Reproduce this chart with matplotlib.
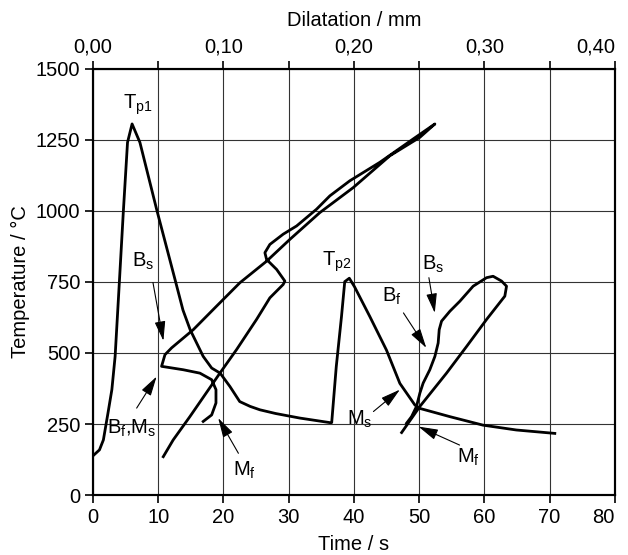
import matplotlib
matplotlib.use('Agg')
from matplotlib import pyplot as plt
from matplotlib.ticker import MultipleLocator

plt.rcParams['font.family'] = ['Liberation Sans', 'DejaVu Sans']
plt.rcParams['mathtext.default'] = 'regular'
plt.rcParams['font.size'] = 14.5

# temperature-time cycle (time / s, temperature / C)
time_s = [0.0, 1.0, 1.6, 2.3, 2.9, 3.4, 4.1, 4.65, 5.3, 6.0, 7.2, 9.8, 12.6, 13.8,
          14.9, 16.9, 18.2, 19.5, 21.0, 22.5, 24.1, 25.6, 28.0, 31.7, 36.3, 36.6,
          37.3, 38.1, 38.6, 39.3, 40.1, 42.45, 45.0, 47.05, 49.35, 50.1, 54.7,
          59.8, 64.9, 70.8]
temp_t = [138, 159, 194, 288, 371, 488, 770, 994, 1241, 1306, 1241, 1002, 757, 651,
          582, 488, 447, 429, 382, 329, 312, 300, 287, 271, 255, 255,
          452, 628, 751, 763, 733, 628, 510, 393, 317, 305, 276,
          246, 229, 217]

# dilatation curve, first cycle (dilatation / mm, temperature / C)
dil1 = [0.0539, 0.0615, 0.0743, 0.0973, 0.1101, 0.1254, 0.1356, 0.1458, 0.1471,
        0.1408, 0.1331, 0.1318, 0.1356, 0.1458, 0.1561, 0.1714, 0.1816, 0.1969,
        0.2199, 0.2454, 0.2621,
        0.2506, 0.2276, 0.1995, 0.1739, 0.1510, 0.1331, 0.1126, 0.0948, 0.0769,
        0.0603, 0.0552, 0.0526, 0.0692, 0.0820, 0.0910, 0.0943, 0.0943, 0.0910,
        0.0845]
temp1 = [135, 194, 276, 429, 512, 618, 694, 741, 753,
         794, 829, 853, 882, 918, 947, 1006, 1053, 1106,
         1171, 1253, 1306,
         1259, 1194, 1082, 994, 900, 823, 747, 665, 582,
         518, 494, 453, 441, 429, 406, 371, 324, 282,
         259]

# dilatation curve, second cycle
dil2 = [0.2366, 0.2506, 0.2710, 0.2864, 0.3017, 0.3157, 0.3170, 0.3132, 0.3067,
        0.3017, 0.2914, 0.2812, 0.2736, 0.2672, 0.2654, 0.2646, 0.2621, 0.2582,
        0.2531, 0.2506, 0.2480, 0.2442, 0.2404]
temp2 = [220, 312, 429, 523, 618, 700, 735, 753, 770,
         765, 735, 682, 647, 612, 582, 535, 488, 441,
         394, 359, 312, 276, 253]

time_ticks = [0, 10, 20, 30, 40, 50, 60, 70, 80]
temp_ticks = [0, 250, 500, 750, 1000, 1250, 1500]
dil_ticks = [0.0, 0.10, 0.20, 0.30, 0.40]
dil_labels = ['0,00', '0,10', '0,20', '0,30', '0,40']

fig = plt.figure(figsize=(6.28, 5.55), dpi=100)
ax = fig.add_axes([0.148, 0.108, 0.831, 0.768])
ax2 = ax.twiny()

ax.plot(time_s, temp_t, color='black', lw=2.0, solid_joinstyle='round')
ax2.plot(dil1, temp1, color='black', lw=2.0, solid_joinstyle='round')
ax2.plot(dil2, temp2, color='black', lw=2.0, solid_joinstyle='round')

ax.set_xlim(0, 80)
ax.set_ylim(0, 1500)
ax2.set_xlim(0, 0.40)
ax.set_xticks(time_ticks, [str(v) for v in time_ticks])
ax.set_yticks(temp_ticks)
ax2.set_xticks(dil_ticks, dil_labels)
ax2.xaxis.set_minor_locator(MultipleLocator(0.05))

ax.grid(True, color='#333333', lw=0.8)
ax.set_axisbelow(True)
for a in (ax, ax2):
    for s in a.spines.values():
        s.set_linewidth(1.5)
ax.tick_params(direction='out', length=6, width=1.2, pad=3)
ax2.tick_params(which='both', direction='out', length=6, width=1.2, pad=3)

# last labels sit flush with the right edge
ax.xaxis.get_major_ticks()[-1].label1.set_ha('right')
ax2.xaxis.get_major_ticks()[-1].label2.set_ha('right')

ax.set_xlabel('Time / s', labelpad=6)
ax.set_ylabel('Temperature / °C', labelpad=4)
ax2.set_xlabel('Dilatation / mm', labelpad=8)

# labels and arrows
lbl = dict(fontsize=14.5, ha='center', va='center')
ax.text(6.9, 1373, 'T$_{p1}$', **lbl)
ax.text(37.4, 822, 'T$_{p2}$', **lbl)
ax.text(7.7, 822, 'B$_s$', **lbl)
ax.text(6.0, 236, 'B$_f$,M$_s$', **lbl)
ax.text(23.3, 88, 'M$_f$', **lbl)
ax.text(52.1, 812, 'B$_s$', **lbl)
ax.text(45.8, 699, 'B$_f$', **lbl)
ax.text(40.9, 265, 'M$_s$', **lbl)
ax.text(57.6, 131, 'M$_f$', **lbl)

arrows = [((9.2, 748), (10.8, 543)),
          ((6.7, 306), (9.76, 417)),
          ((22.3, 147), (19.2, 271)),
          ((51.5, 765), (52.4, 641)),
          ((47.6, 641), (51.1, 518)),
          ((43.0, 294), (47.05, 371)),
          ((56.2, 176), (49.9, 241))]
for start, tip in arrows:
    ax.annotate('', xy=tip, xytext=start,
                arrowprops=dict(arrowstyle='-|>,head_length=0.8,head_width=0.22',
                                mutation_scale=15, color='black', lw=0.8,
                                shrinkA=0, shrinkB=0))

fig.savefig('out.png', dpi=100)
